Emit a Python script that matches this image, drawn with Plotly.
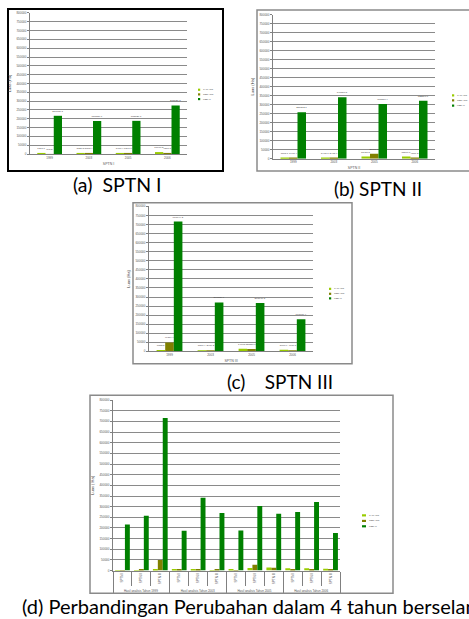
import plotly.graph_objects as go

# ---------------- data ----------------
years = ["1999", "2003", "2005", "2006"]
sptn_names = ["SPTN I", "SPTN II", "SPTN III"]
class_names = ["JARANG", "SEDANG", "LEBAT"]

sptn1_jarang = [1301.0, 3026.5, 3476.4, 10900.2]
sptn1_sedang = [348.2, 5068.4, 1890.7, 4500.3]
sptn1_lebat = [216715.3, 187350.6, 188020.1, 275120.8]

sptn2_jarang = [1165.7, 5437.7, 11920.5, 11500.1]
sptn2_sedang = [3498.4, 2418.9, 27600.3, 4860.2]
sptn2_lebat = [257862.7, 341800.5, 303510.4, 322290.6]

sptn3_jarang = [7832.5, 1577.4, 14618.3, 8966.9]
sptn3_sedang = [49319.4, 2466.2, 13580.6, 4671.5]
sptn3_lebat = [716044.2, 270380.6, 267040.8, 177000.4]

y_ticks = list(range(0, 800001, 50000))
group_prefix = "Hasil analisis Tahun "
y_title = "Luas (Ha)"
captions = ["(a)\u00a0\u00a0SPTN I", "(b) SPTN II", "(c)\u00a0\u00a0\u00a0\u00a0SPTN III",
            "(d) Perbandingan Perubahan dalam 4 tahun berselang"]

# ---------------- styling / layout helpers ----------------
W, H = 469, 619
colors = ["#99CC00", "#808000", "#008000"]
grid_c = "#8a8a8a"
tiny = "Liberation Sans"


def fx(px):
    return px / W


def fy(py):
    return 1 - py / H


fig = go.Figure()

panel_data = [
    (sptn1_jarang, sptn1_sedang, sptn1_lebat),
    (sptn2_jarang, sptn2_sedang, sptn2_lebat),
    (sptn3_jarang, sptn3_sedang, sptn3_lebat),
]
panel_geom = [
    dict(x=(30, 187), y=(11, 153)),
    dict(x=(273, 435), y=(12.7, 157.7)),
    dict(x=(149, 313), y=(205.7, 351.7)),
]
offsets3 = [-0.315, -0.105, 0.105]

layout_axes = {}
for i, (series, geom) in enumerate(zip(panel_data, panel_geom)):
    n = i + 1
    xa = "x" if n == 1 else f"x{n}"
    ya = "y" if n == 1 else f"y{n}"
    for k, vals in enumerate(series):
        fig.add_trace(go.Bar(
            x=years, y=vals, xaxis=xa, yaxis=ya, name=class_names[k],
            marker=dict(color=colors[k], line=dict(width=0)),
            width=0.21, offset=offsets3[k],
            text=[f"{v:.1f}" for v in vals], textposition="outside",
            textfont=dict(size=2.5, color="#444", family=tiny),
            constraintext="none", cliponaxis=False, showlegend=False,
        ))
    xkey = "xaxis" if n == 1 else f"xaxis{n}"
    ykey = "yaxis" if n == 1 else f"yaxis{n}"
    layout_axes[xkey] = dict(
        domain=[fx(geom["x"][0]), fx(geom["x"][1])], anchor=ya,
        type="category", range=[-0.5, 3.5], showgrid=False,
        showline=True, linecolor="#808080", linewidth=1, ticks="",
        tickfont=dict(size=3, color="#555", family=tiny),
        title=dict(text=sptn_names[i], font=dict(size=3.5, color="#555", family=tiny), standoff=3),
    )
    layout_axes[ykey] = dict(
        domain=[fy(geom["y"][1]), fy(geom["y"][0])], anchor=xa,
        range=[0, 800000], tickvals=y_ticks, tickformat="d",
        showgrid=True, gridcolor=grid_c, gridwidth=1,
        showline=True, linecolor="#808080", linewidth=1,
        ticks="outside", ticklen=2, tickcolor="#808080",
        tickfont=dict(size=3, color="#555", family=tiny),
        title=dict(text=y_title, font=dict(size=4, color="#333", family=tiny), standoff=4),
        zeroline=False,
    )

# panel (d): comparison regrouped by year
all_series = {
    0: [sptn1_jarang, sptn2_jarang, sptn3_jarang],
    1: [sptn1_sedang, sptn2_sedang, sptn3_sedang],
    2: [sptn1_lebat, sptn2_lebat, sptn3_lebat],
}
outer = [group_prefix + y for y in years for _ in sptn_names]
inner = [s for _ in years for s in sptn_names]
offsets_d = [-0.39, -0.13, 0.13]
for k in range(3):
    vals = [all_series[k][si][yi] for yi in range(len(years)) for si in range(len(sptn_names))]
    fig.add_trace(go.Bar(
        x=[outer, inner], y=vals, xaxis="x4", yaxis="y4", name=class_names[k],
        marker=dict(color=colors[k], line=dict(width=0)),
        width=0.26, offset=offsets_d[k], showlegend=False,
    ))

layout_axes["xaxis4"] = dict(
    domain=[fx(113), fx(340)], anchor="y4", type="multicategory",
    showgrid=False, showline=True, linecolor="#808080", linewidth=1,
    tickson="boundaries", ticks="outside", ticklen=14, tickcolor="#808080",
    showdividers=True, dividercolor="#808080", dividerwidth=1,
    tickangle=-90, tickfont=dict(size=3, color="#555", family=tiny),
)
layout_axes["yaxis4"] = dict(
    domain=[fy(572.3), fy(400.7)], anchor="x4",
    range=[0, 800000], tickvals=y_ticks, tickformat="d",
    showgrid=True, gridcolor=grid_c, gridwidth=1,
    showline=True, linecolor="#808080", linewidth=1,
    ticks="outside", ticklen=2, tickcolor="#808080",
    tickfont=dict(size=3, color="#555", family=tiny),
    title=dict(text="Luas ( Ha)", font=dict(size=4, color="#333", family=tiny), standoff=4),
    zeroline=False,
)

# ---------------- frames, legends, captions ----------------
shapes = []
annotations = []
boxes = [
    ((8, 7, 223, 170), "#000000", 2),
    ((257, 8, 480, 170), "#8a8a8a", 1.5),
    ((133, 202, 352, 364), "#8a8a8a", 1.5),
    ((90, 395.7, 393, 595), "#8a8a8a", 1.5),
]
for (x0, y0, x1, y1), c, w in boxes:
    shapes.append(dict(type="rect", xref="paper", yref="paper",
                       x0=fx(x0), x1=fx(x1), y0=fy(y1), y1=fy(y0),
                       line=dict(color=c, width=w), fillcolor="rgba(0,0,0,0)"))

legend_pos = [
    (198, [88.3, 93.0, 97.7], 2.2),
    (452, [94.0, 99.0, 104.3], 2.2),
    (329, [288.7, 293.7, 298.3], 2.2),
    (362, [516.7, 522.3, 527.7], 4.0),
]
for lx, rows, sw in legend_pos:
    for k, ry in enumerate(rows):
        shapes.append(dict(type="rect", xref="paper", yref="paper",
                           x0=fx(lx), x1=fx(lx + sw), y0=fy(ry + 1.1), y1=fy(ry - 1.1),
                           line=dict(width=0), fillcolor=colors[k]))
        annotations.append(dict(text=class_names[k], xref="paper", yref="paper",
                                x=fx(lx + sw + 1), y=fy(ry), xanchor="left", yanchor="middle",
                                showarrow=False, font=dict(size=2.5, color="#555", family=tiny)))

cap_font = "Lato"
cap_pos = [(117, 184, "center", 19.5), (378, 188, "center", 19),
           (280, 382, "center", 19), (20, 608, "left", 20)]
for txt, (cx, cy, anc, fs) in zip(captions, cap_pos):
    annotations.append(dict(text=txt, xref="paper", yref="paper", x=fx(cx), y=fy(cy),
                            xanchor=anc, yanchor="middle", showarrow=False,
                            font=dict(size=fs, color="#000", family=cap_font)))

fig.update_layout(
    width=W, height=H, margin=dict(l=0, r=0, t=0, b=0),
    paper_bgcolor="white", plot_bgcolor="white",
    barmode="group", showlegend=False,
    shapes=shapes, annotations=annotations,
    font=dict(family=tiny, size=4),
    **layout_axes,
)

fig.write_html("out.html", config={"displayModeBar": False},
               post_script="document.body.style.margin='0px';document.body.style.overflow='hidden';")
